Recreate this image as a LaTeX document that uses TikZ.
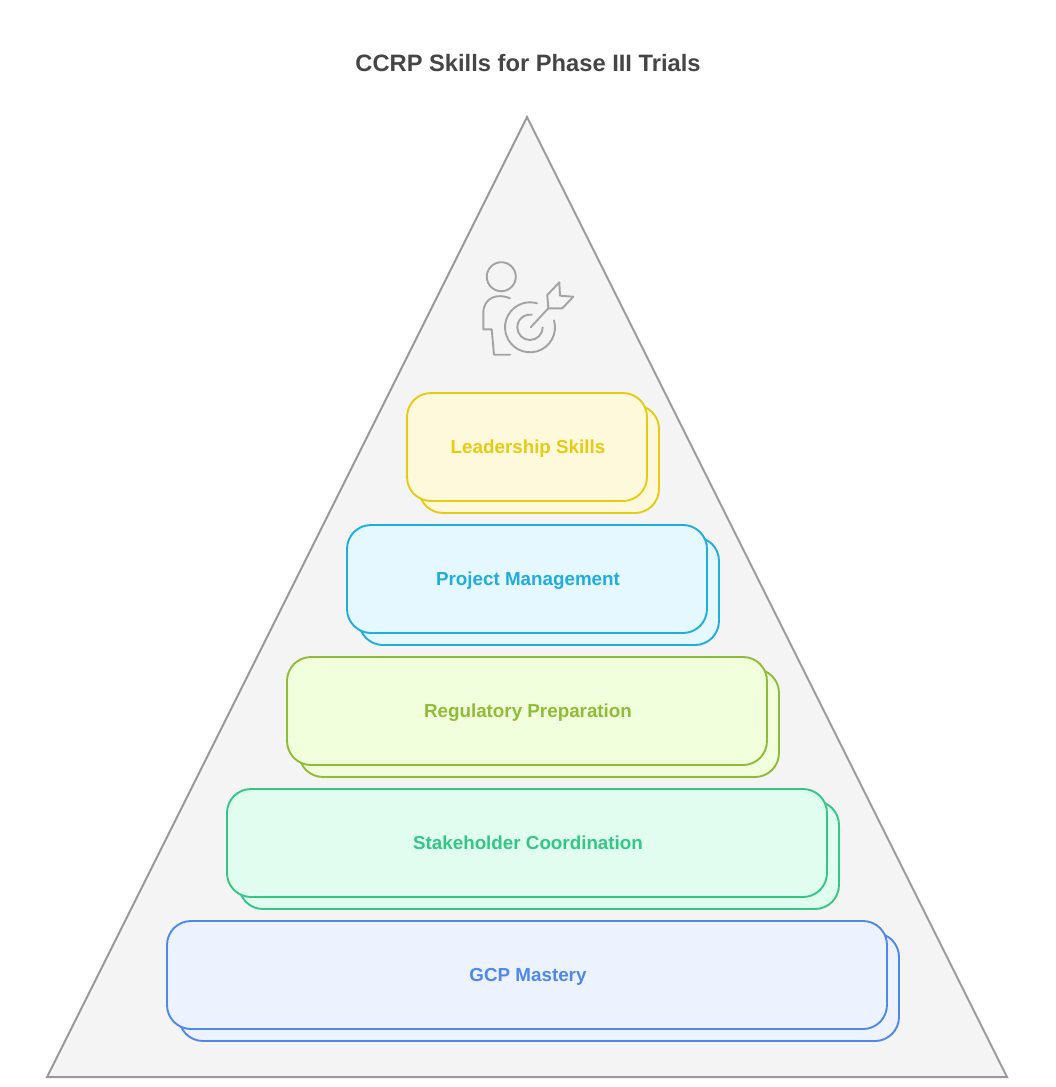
\documentclass[tikz,border=0pt]{standalone}
\usepackage{fontspec}
\setmainfont{Liberation Sans}
\definecolor{leadline}{HTML}{E5CB14}
\definecolor{leadfill}{HTML}{FFF9DB}
\definecolor{projline}{HTML}{1FADDB}
\definecolor{projfill}{HTML}{E6F8FF}
\definecolor{reguline}{HTML}{8FBC37}
\definecolor{regufill}{HTML}{F2FFDC}
\definecolor{stakline}{HTML}{34C685}
\definecolor{stakfill}{HTML}{E1FDF0}
\definecolor{gcpline}{HTML}{4F88E8}
\definecolor{gcpfill}{HTML}{ECF3FE}
\definecolor{pyramidline}{HTML}{999999}
\definecolor{pyramidfill}{HTML}{F4F4F4}
\definecolor{iconcol}{HTML}{A3A3A3}
\definecolor{titlecol}{HTML}{454545}
\tikzset{
	skillbox/.style={rounded corners=24pt, line width=1.9pt, inner sep=0pt, minimum height=108pt, text height=13.4pt, text depth=0pt, font=\fontsize{18.8}{22}\selectfont\bfseries, execute at begin node=\hspace*{2pt}},
	iconline/.style={draw=iconcol, line width=1.9pt}
}
\begin{document}
\begin{tikzpicture}[x=1pt, y=-1pt, line cap=round, line join=round]
	\useasboundingbox (0,0) rectangle (1056,1087);

	% Title
	\node[text=titlecol, font=\fontsize{23.7}{28}\selectfont\bfseries] (title) at (528,63) {CCRP Skills for Phase III Trials};

	% Pyramid
	\coordinate (apex) at (527,117);
	\coordinate (right) at (1007,1077);
	\coordinate (left) at (47,1077);
	\draw[draw=pyramidline, fill=pyramidfill, line width=2pt, line join=miter] (apex)--(right)--(left)--cycle;

	% Icon: person
	\draw[iconline] (501.3,276.7) circle[radius=14.5];
	\draw[iconline] (510,298.3) .. controls (498,293) and (483.3,297) .. (483.3,313.3) -- (483.3,329.3) -- (491.7,329.3) -- (494,354.7) -- (510,354.7);

	% Icon: target and dart
	\coordinate (target) at (530,327.3);
	\draw[iconline] ([shift={(-16:25)}]target) arc[start angle=-16, end angle=286, radius=25];
	\draw[iconline] ([shift={(0:12.7)}]target) arc[start angle=0, end angle=278, radius=12.7];
	\draw[iconline] (530.7,327.3) -- (548.3,308.3);
	\draw[iconline] (548.3,308.3) -- (547.3,295) -- (559.3,282.3) -- (560,295.7) -- (573.3,296.7) -- (562.3,308.3) -- cycle;

	% Leadership Skills
	\node[skillbox, draw=leadline, fill=leadfill, minimum width=240pt] (leadershipback) at (539,459) {};
	\node[skillbox, draw=leadline, fill=leadfill, minimum width=240pt, text=leadline] (leadership) at (527,447) {Leadership Skills};

	% Project Management
	\node[skillbox, draw=projline, fill=projfill, minimum width=360pt] (projectback) at (539,591) {};
	\node[skillbox, draw=projline, fill=projfill, minimum width=360pt, text=projline] (project) at (527,579) {Project Management};

	% Regulatory Preparation
	\node[skillbox, draw=reguline, fill=regufill, minimum width=480pt] (regulatoryback) at (539,723) {};
	\node[skillbox, draw=reguline, fill=regufill, minimum width=480pt, text=reguline] (regulatory) at (527,711) {Regulatory Preparation};

	% Stakeholder Coordination
	\node[skillbox, draw=stakline, fill=stakfill, minimum width=600pt] (stakeholderback) at (539,855) {};
	\node[skillbox, draw=stakline, fill=stakfill, minimum width=600pt, text=stakline] (stakeholder) at (527,843) {Stakeholder Coordination};

	% GCP Mastery
	\node[skillbox, draw=gcpline, fill=gcpfill, minimum width=720pt] (gcpback) at (539,987) {};
	\node[skillbox, draw=gcpline, fill=gcpfill, minimum width=720pt, text=gcpline] (gcp) at (527,975) {GCP Mastery};
\end{tikzpicture}
\end{document}
